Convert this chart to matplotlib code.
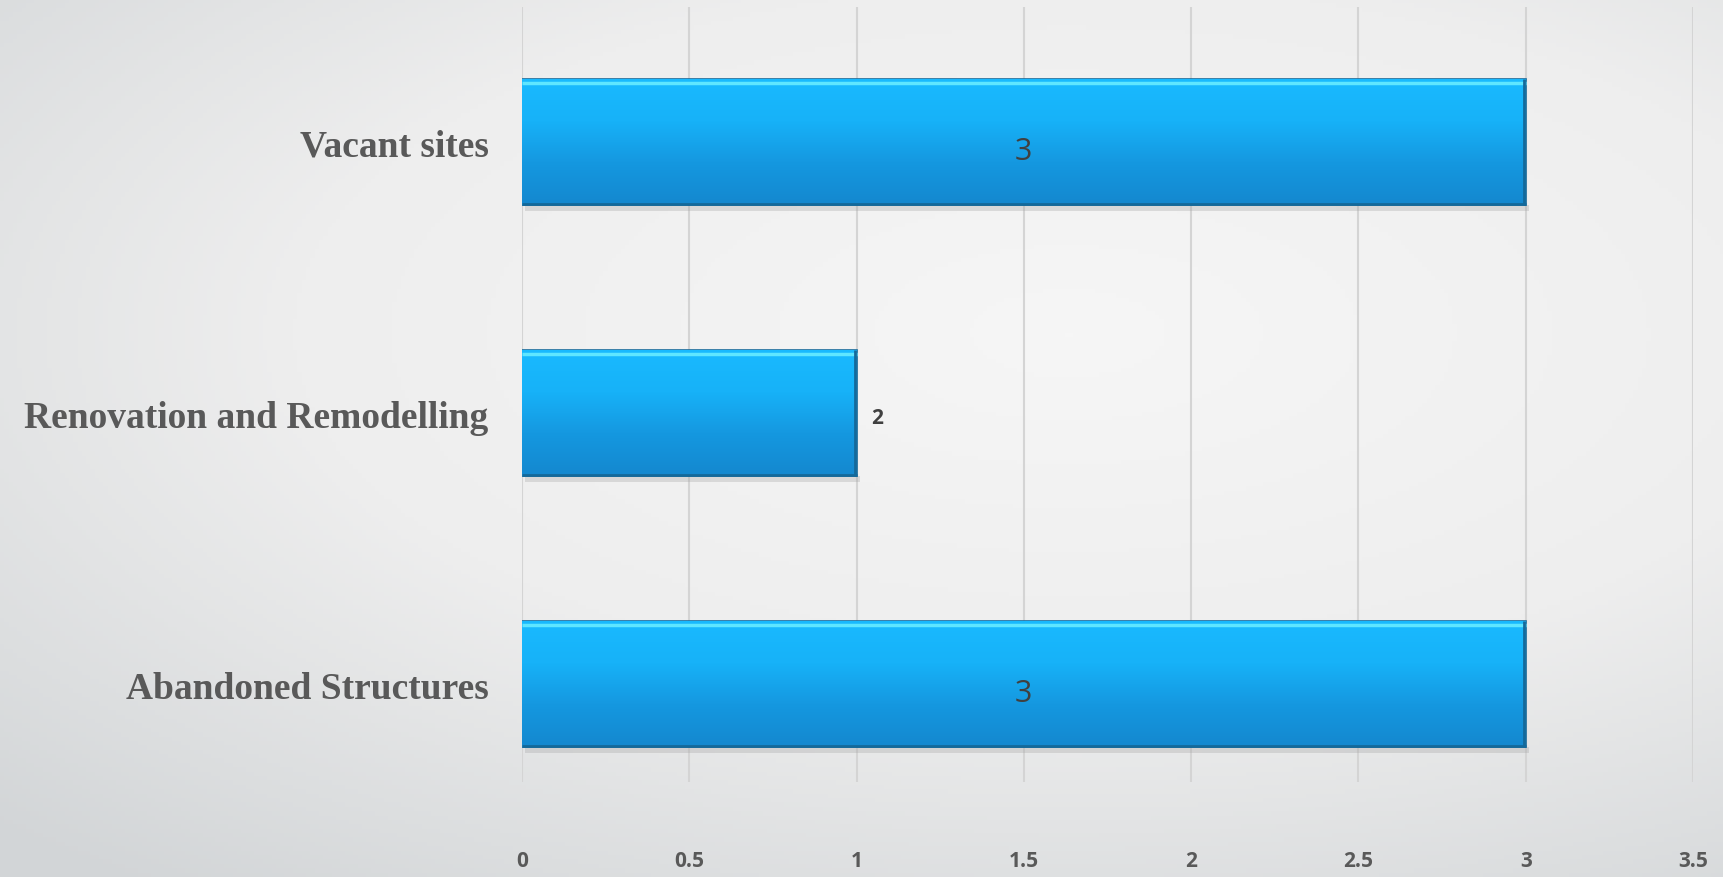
import numpy as np
import matplotlib
matplotlib.use("Agg")
import matplotlib.pyplot as plt
from matplotlib.colors import LinearSegmentedColormap

# Data
categories = ["Abandoned Structures", "Renovation and Remodelling", "Vacant sites"]
values = [3, 1, 3]
value_labels = ["3", "2", "3"]
x_ticks = [0, 0.5, 1, 1.5, 2, 2.5, 3, 3.5]
x_tick_labels = ["0", "0.5", "1", "1.5", "2", "2.5", "3", "3.5"]

W, H = 17.24, 8.78
fig = plt.figure(figsize=(W, H), dpi=100)

# background gradient (light centre, greyer edges)
bg = fig.add_axes([0, 0, 1, 1], zorder=0)
yy, xx = np.mgrid[0:1:200j, 0:1:400j]
r = np.sqrt(((xx - 0.62) / 0.9) ** 2 + ((yy - 0.62) / 0.8) ** 2)
bg_cmap = LinearSegmentedColormap.from_list("bg", ["#f6f6f6", "#eeeeee", "#d2d5d7"])
bg.imshow(r, cmap=bg_cmap, extent=[0, 1, 0, 1], aspect="auto", origin="lower",
          vmin=0, vmax=1.0)
bg.axis("off")

ax = fig.add_axes([0.3028, 0.065, 0.982 - 0.3028, 0.991 - 0.065], zorder=1)
ax.patch.set_alpha(0)

y = np.arange(len(categories))
bar_h = 0.465
bars = ax.barh(y, values, height=bar_h, color="#17acf2", edgecolor="#1a6c9c",
               linewidth=1.2, zorder=3)

# vertical gradient + bevel highlight on each bar
grad_cmap = LinearSegmentedColormap.from_list("bar", ["#1488cf", "#1598e0", "#17b2f8", "#19baff"])
grad = np.linspace(0, 1, 100).reshape(-1, 1)
for b, v, yc in zip(bars, values, y):
    im = ax.imshow(grad, cmap=grad_cmap, extent=[0, v, yc - bar_h / 2, yc + bar_h / 2],
                   aspect="auto", origin="lower", zorder=3.5)
    im.set_clip_path(b)
    ax.plot([0, v], [yc + bar_h / 2 - 0.012] * 2, color="#5fe6ff", lw=2.5,
            solid_capstyle="butt", zorder=4)
    ax.plot([0, v], [yc - bar_h / 2 + 0.006] * 2, color="#14699a", lw=2,
            solid_capstyle="butt", zorder=4)
    ax.plot([v - 0.004] * 2, [yc - bar_h / 2, yc + bar_h / 2], color="#14699a", lw=2,
            solid_capstyle="butt", zorder=4)
    # soft shadow under bar
    ax.fill_between([0.01, v + 0.01], yc - bar_h / 2 - 0.02, yc - bar_h / 2,
                    color="#a0a0a0", alpha=0.3, lw=0, zorder=2.5)

# data labels
for v, yc, lab in zip(values, y, value_labels):
    if v >= 2:
        ax.text(v / 2, yc - 0.03, lab, ha="center", va="center", fontsize=22,
                color="#404040", family="Open Sans", zorder=5)
    else:
        ax.text(v + 0.045, yc - 0.015, lab, ha="left", va="center", fontsize=15,
                fontweight="bold", color="#404040", family="Open Sans", zorder=5)

ax.set_xlim(0, 3.5)
ax.set_ylim(-0.5, 2.5)
ax.set_xticks(x_ticks)
ax.set_xticklabels(x_tick_labels, fontsize=15, fontweight="bold", color="#595959",
                   family="Open Sans")
ax.set_yticks(y)
ax.set_yticklabels(categories, fontsize=27, fontweight="bold", color="#595959",
                   family="Liberation Serif")
ax.tick_params(axis="x", length=0, pad=22)
ax.tick_params(axis="y", length=0, pad=24)
# gridlines stop short of the axis bottom, as in the reference
ax.vlines(x_ticks, -0.36, 2.5, color="#d4d4d4", lw=1.5, zorder=1)
for s in ax.spines.values():
    s.set_visible(False)

fig.savefig("out.png", dpi=100)
